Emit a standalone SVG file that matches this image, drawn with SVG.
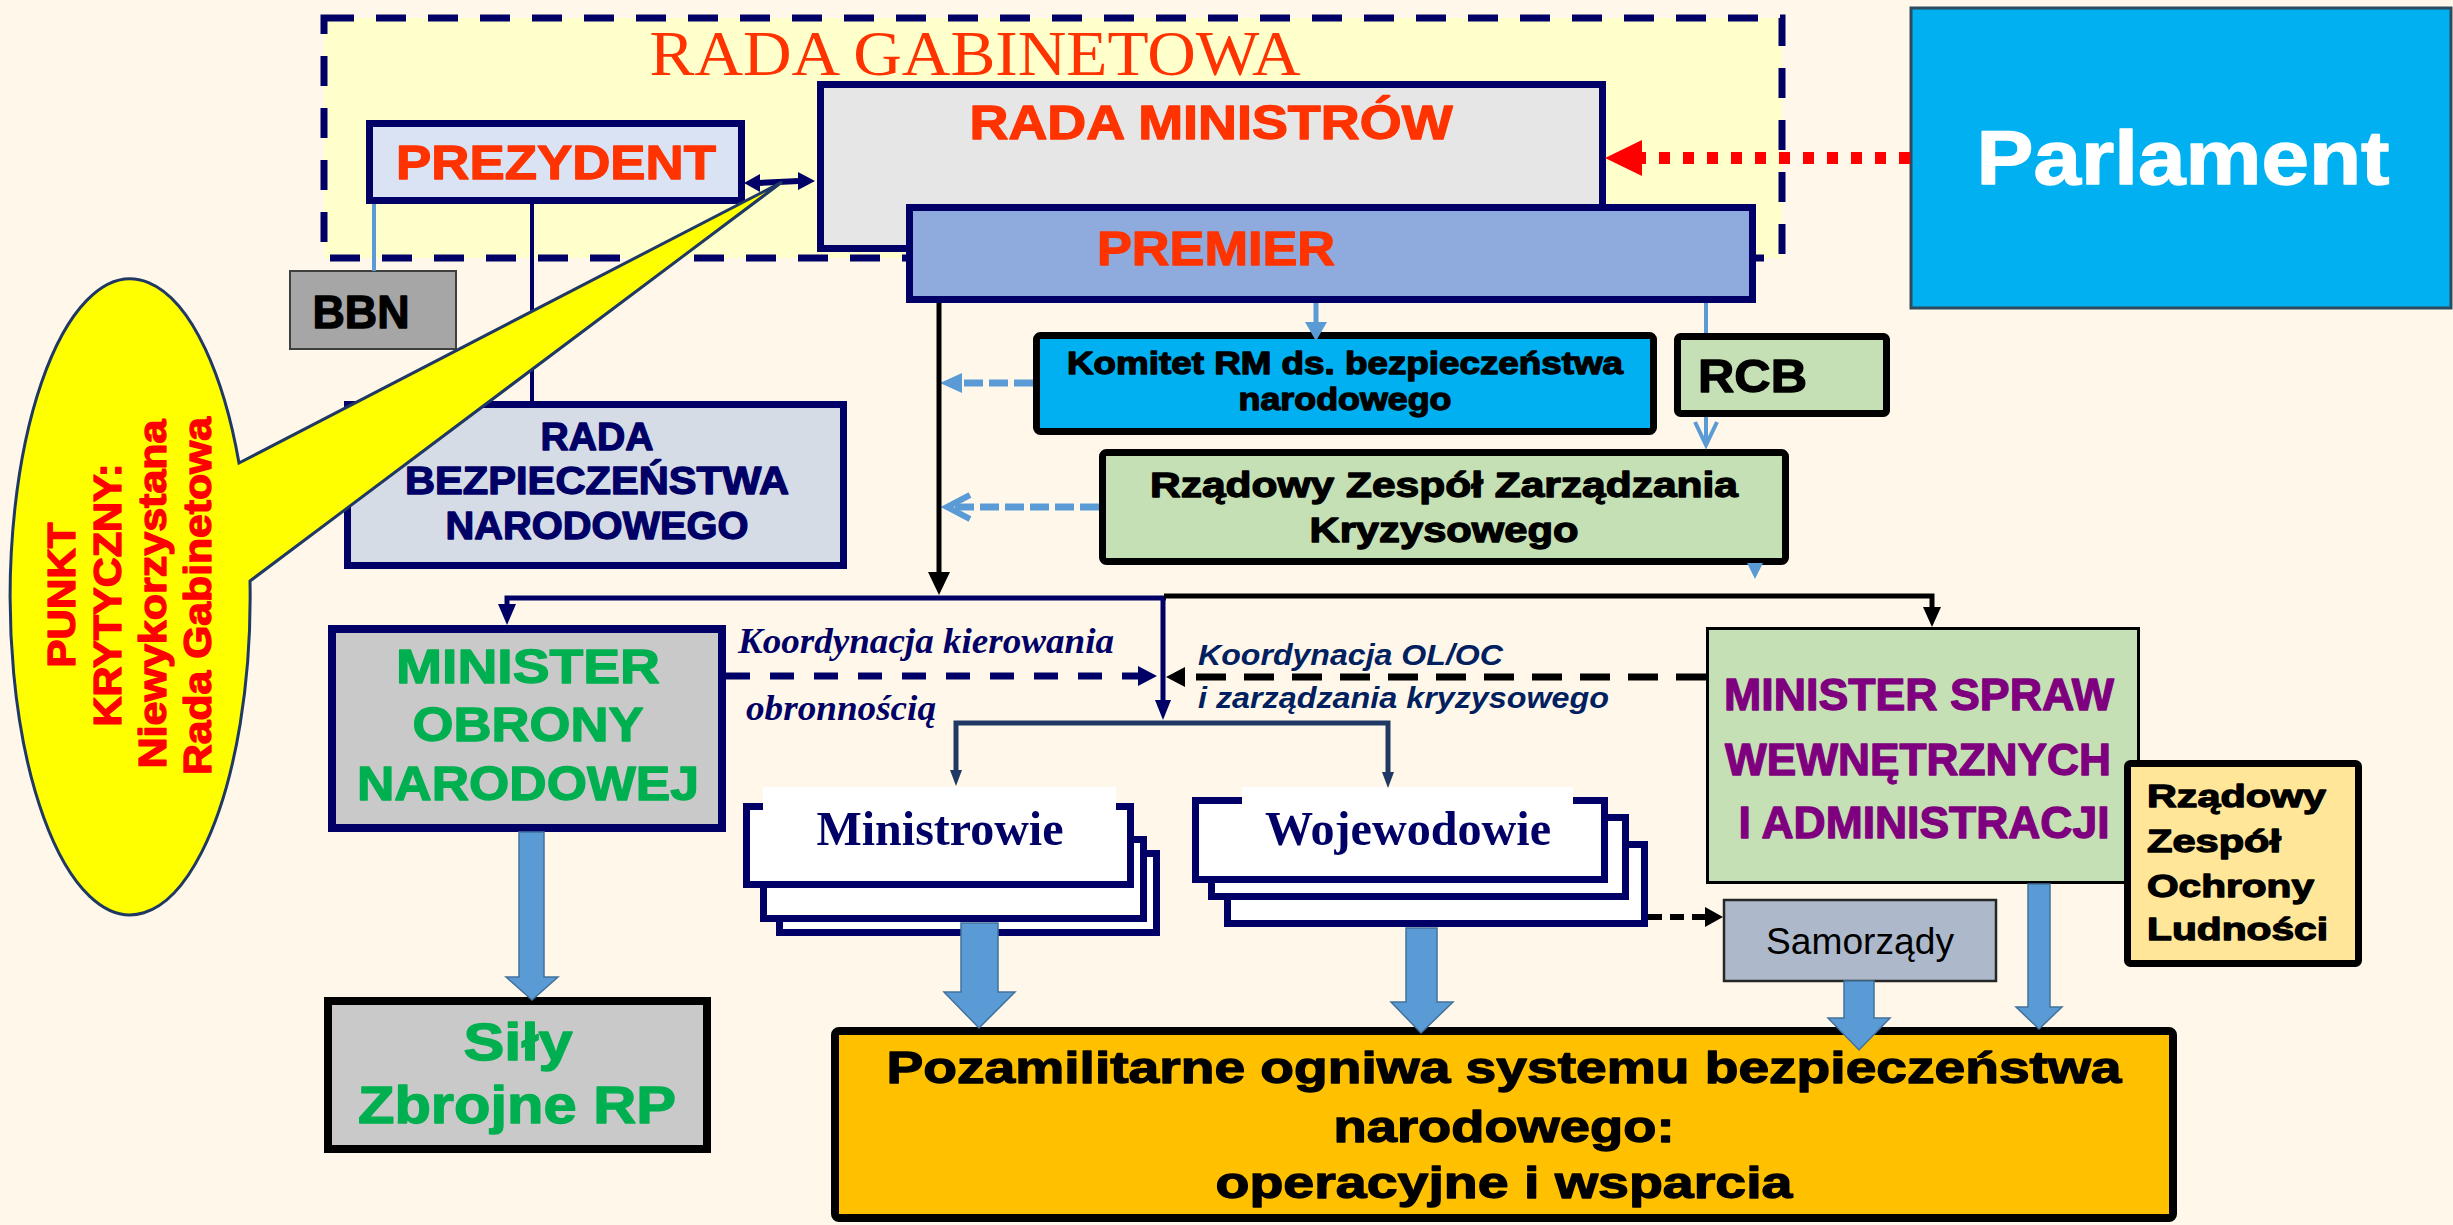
<svg xmlns="http://www.w3.org/2000/svg" width="2453" height="1225" viewBox="0 0 2453 1225">
<style>
.b{font-family:"Liberation Sans",Arial,sans-serif;font-weight:bold}
.h{stroke-width:1.3;stroke-linejoin:round}
.c{text-anchor:middle}
.nav{stroke:#000066}
.box7{stroke-width:7}
.blk{fill:#5B9BD5;stroke:#41719C;stroke-width:1.5}
.ser{font-family:"Liberation Serif","Times New Roman",serif}
</style>
<rect width="2453" height="1225" fill="#FFF8EA"/>

<g id="rada-gabinetowa">
<rect x="324" y="18" width="1458" height="240" fill="#FFFFCC" stroke="#000066" stroke-width="7" stroke-dasharray="30 22"/>
<text class="ser c" x="975" y="75" font-size="64" fill="#FF3300" textLength="651" lengthAdjust="spacingAndGlyphs">RADA GABINETOWA</text>
</g>

<g id="prezydent">
<rect x="369.5" y="123.5" width="372" height="77" fill="#DAE3F3" class="nav box7"/>
<text class="b c h" x="556" y="179" font-size="49" fill="#FF3300" stroke="#FF3300" textLength="320" lengthAdjust="spacingAndGlyphs">PREZYDENT</text>
</g>

<g id="rada-ministrow">
<rect x="820.5" y="84.5" width="782" height="164" fill="#E7E6E6" class="nav box7"/>
<text class="b c h" x="1211" y="139" font-size="48" fill="#FF3300" stroke="#FF3300" textLength="483" lengthAdjust="spacingAndGlyphs">RADA MINISTRÓW</text>
</g>

<g id="premier">
<rect x="909.5" y="207.5" width="843" height="92" fill="#8FAADC" class="nav box7"/>
<text class="b c h" x="1216" y="265" font-size="49" fill="#FF3300" stroke="#FF3300" textLength="238" lengthAdjust="spacingAndGlyphs">PREMIER</text>
</g>

<g id="parlament">
<rect x="1911" y="8" width="540" height="300" fill="#00B0F0" stroke="#2E4A5E" stroke-width="3"/>
<text class="b c h" x="2183" y="184" font-size="76" fill="#FFFFFF" stroke="#FFFFFF" textLength="413" lengthAdjust="spacingAndGlyphs">Parlament</text>
</g>

<g id="bbn">
<rect x="290" y="271" width="166" height="78" fill="#A6A6A6" stroke="#3F3F3F" stroke-width="2"/>
<text class="b c h" x="361" y="328" font-size="46" fill="#000" stroke="#000" textLength="97" lengthAdjust="spacingAndGlyphs">BBN</text>
</g>

<g id="rbn">
<rect x="347.5" y="404.5" width="496" height="161" fill="#D6DCE5" class="nav box7"/>
<g class="b c h" font-size="38" fill="#000066" stroke="#000066">
<text x="597" y="450" textLength="113" lengthAdjust="spacingAndGlyphs">RADA</text>
<text x="597" y="494" textLength="384" lengthAdjust="spacingAndGlyphs">BEZPIECZEŃSTWA</text>
<text x="597" y="539" textLength="303" lengthAdjust="spacingAndGlyphs">NARODOWEGO</text>
</g>
</g>

<g id="komitet">
<rect x="1036.5" y="335.5" width="617" height="96" rx="4" fill="#00B0F0" stroke="#000" stroke-width="7"/>
<g class="b c h" font-size="31" fill="#000" stroke="#000">
<text x="1345" y="374" textLength="556" lengthAdjust="spacingAndGlyphs">Komitet RM ds. bezpieczeństwa</text>
<text x="1345" y="410" textLength="213" lengthAdjust="spacingAndGlyphs">narodowego</text>
</g>
</g>

<g id="rcb">
<rect x="1677.5" y="336.5" width="209" height="77" rx="3" fill="#C5E0B4" stroke="#000" stroke-width="7"/>
<text class="b h" x="1698" y="392" font-size="47" fill="#000" stroke="#000" textLength="109" lengthAdjust="spacingAndGlyphs">RCB</text>
</g>

<g id="rzzk">
<rect x="1102.5" y="452.5" width="683" height="109" rx="4" fill="#C5E0B4" stroke="#000" stroke-width="7"/>
<g class="b c h" font-size="35" fill="#000" stroke="#000">
<text x="1444" y="497" textLength="588" lengthAdjust="spacingAndGlyphs">Rządowy Zespół Zarządzania</text>
<text x="1444" y="542" textLength="269" lengthAdjust="spacingAndGlyphs">Kryzysowego</text>
</g>
</g>

<g id="mon">
<rect x="332" y="629" width="390" height="199" fill="#C9C9C9" stroke="#000066" stroke-width="8"/>
<g class="b c h" font-size="48" fill="#00B050" stroke="#00B050">
<text x="528" y="683" textLength="264" lengthAdjust="spacingAndGlyphs">MINISTER</text>
<text x="528" y="741" textLength="231" lengthAdjust="spacingAndGlyphs">OBRONY</text>
<text x="528" y="800" textLength="342" lengthAdjust="spacingAndGlyphs">NARODOWEJ</text>
</g>
</g>

<g id="sily-zbrojne">
<rect x="328" y="1001" width="379" height="148" fill="#C9C9C9" stroke="#000" stroke-width="8"/>
<g class="b c h" font-size="51" fill="#00B050" stroke="#00B050">
<text x="518" y="1060" textLength="109" lengthAdjust="spacingAndGlyphs">Siły</text>
<text x="517" y="1123" textLength="318" lengthAdjust="spacingAndGlyphs">Zbrojne RP</text>
</g>
</g>

<g id="ministrowie">
<rect x="779.5" y="853.5" width="377" height="79" fill="#FFF" class="nav box7"/>
<rect x="763.5" y="839.5" width="380" height="79" fill="#FFF" class="nav box7"/>
<rect x="746.5" y="806.5" width="384" height="78" fill="#FFF" class="nav box7"/>
<rect x="763" y="787" width="353" height="40" fill="#FFF"/>
<text class="ser c" x="940" y="845" font-size="49" font-weight="bold" fill="#000066" textLength="247" lengthAdjust="spacingAndGlyphs">Ministrowie</text>
</g>

<g id="wojewodowie">
<rect x="1227.5" y="844.5" width="417" height="79" fill="#FFF" class="nav box7"/>
<rect x="1211.5" y="817.5" width="414" height="79" fill="#FFF" class="nav box7"/>
<rect x="1195.5" y="800.5" width="409" height="79" fill="#FFF" class="nav box7"/>
<rect x="1242" y="787" width="331" height="40" fill="#FFF"/>
<text class="ser c" x="1408" y="845" font-size="49" font-weight="bold" fill="#000066" textLength="286" lengthAdjust="spacingAndGlyphs">Wojewodowie</text>
</g>

<g id="samorzady">
<rect x="1724" y="900" width="272" height="81" fill="#ADB9CA" stroke="#262626" stroke-width="2.5"/>
<text class="c" x="1860" y="954" font-family="Liberation Sans, Arial, sans-serif" font-size="36" fill="#000" textLength="188" lengthAdjust="spacingAndGlyphs">Samorządy</text>
</g>

<g id="mswia">
<rect x="1707.5" y="628.5" width="431" height="254" fill="#C5E0B4" stroke="#000" stroke-width="3"/>
<g class="b c h" font-size="45" fill="#7F007F" stroke="#7F007F">
<text x="1919" y="710" textLength="390" lengthAdjust="spacingAndGlyphs">MINISTER SPRAW</text>
<text x="1918" y="775" textLength="386" lengthAdjust="spacingAndGlyphs">WEWNĘTRZNYCH</text>
<text x="1924" y="838" textLength="371" lengthAdjust="spacingAndGlyphs">I ADMINISTRACJI</text>
</g>
</g>

<g id="rzol">
<rect x="2127.5" y="763.5" width="231" height="200" rx="3" fill="#FFE699" stroke="#000" stroke-width="7"/>
<g class="b h" font-size="32" fill="#000" stroke="#000">
<text x="2147" y="807" textLength="179" lengthAdjust="spacingAndGlyphs">Rządowy</text>
<text x="2147" y="852" textLength="134" lengthAdjust="spacingAndGlyphs">Zespół</text>
<text x="2147" y="897" textLength="167" lengthAdjust="spacingAndGlyphs">Ochrony</text>
<text x="2147" y="940" textLength="181" lengthAdjust="spacingAndGlyphs">Ludności</text>
</g>
</g>

<g id="pozamilitarne">
<rect x="835" y="1031" width="1338" height="187" rx="4" fill="#FFC000" stroke="#000" stroke-width="8"/>
<g class="b c h" font-size="45" fill="#000" stroke="#000">
<text x="1504" y="1083" textLength="1235" lengthAdjust="spacingAndGlyphs">Pozamilitarne ogniwa systemu bezpieczeństwa</text>
<text x="1504" y="1142" textLength="341" lengthAdjust="spacingAndGlyphs">narodowego:</text>
<text x="1504" y="1198" textLength="577" lengthAdjust="spacingAndGlyphs">operacyjne i wsparcia</text>
</g>
</g>

<g id="connectors">
<line x1="1910" y1="158" x2="1640" y2="158" stroke="#FF0000" stroke-width="12" stroke-dasharray="11 13"/>
<polygon points="1605,158 1642,140 1642,176" fill="#FF0000"/>
<line x1="758" y1="183" x2="799" y2="181" stroke="#000066" stroke-width="6"/>
<polygon points="744,183 760,174 760,192" fill="#000066"/>
<polygon points="815,181 798,172 798,190" fill="#000066"/>
<line x1="374" y1="204" x2="374" y2="271" stroke="#5B9BD5" stroke-width="4"/>
<line x1="532" y1="204" x2="532" y2="401" stroke="#000066" stroke-width="4"/>
<line x1="1316" y1="303" x2="1316" y2="324" stroke="#5B9BD5" stroke-width="5"/>
<polygon points="1316,341 1305,322 1327,322" fill="#5B9BD5"/>
<line x1="1706" y1="303" x2="1706" y2="333" stroke="#5B9BD5" stroke-width="4"/>
<line x1="1706" y1="417" x2="1706" y2="444" stroke="#5B9BD5" stroke-width="4"/>
<polyline points="1695,422 1706,445 1717,422" fill="none" stroke="#5B9BD5" stroke-width="4"/>
<line x1="1033" y1="383" x2="960" y2="383" stroke="#5B9BD5" stroke-width="7" stroke-dasharray="19 6"/>
<polygon points="940,383 962,373 962,393" fill="#5B9BD5"/>
<line x1="1099" y1="507" x2="950" y2="507" stroke="#5B9BD5" stroke-width="7" stroke-dasharray="19 6"/>
<polyline points="970,495 947,507 970,519" fill="none" stroke="#5B9BD5" stroke-width="6"/>
<polygon points="1747,563 1763,563 1755,579" fill="#5B9BD5"/>
<line x1="939" y1="303" x2="939" y2="575" stroke="#000" stroke-width="5"/>
<polygon points="939,595 928,572 950,572" fill="#000"/>
<polyline points="1166,598 507,598 507,606" fill="none" stroke="#000066" stroke-width="5"/>
<polygon points="507,625 498,604 516,604" fill="#000066"/>
<line x1="1163" y1="598" x2="1163" y2="702" stroke="#000066" stroke-width="5"/>
<polygon points="1163,720 1155,700 1171,700" fill="#000066"/>
<polyline points="1164,596 1932,596 1932,608" fill="none" stroke="#000" stroke-width="5"/>
<polygon points="1932,627 1923,607 1941,607" fill="#000"/>
<polyline points="956,772 956,723 1388,723 1388,774" fill="none" stroke="#1F3864" stroke-width="5"/>
<polygon points="956,786 950,770 962,770" fill="#1F3864"/>
<polygon points="1388,788 1382,772 1394,772" fill="#1F3864"/>
<line x1="726" y1="676" x2="1140" y2="676" stroke="#000066" stroke-width="7" stroke-dasharray="24 20"/>
<polygon points="1157,676 1138,666 1138,686" fill="#000066"/>
<line x1="1706" y1="677" x2="1184" y2="677" stroke="#000" stroke-width="7" stroke-dasharray="30 18"/>
<polygon points="1166,677 1185,667 1185,687" fill="#000"/>
<line x1="1648" y1="917" x2="1706" y2="917" stroke="#000" stroke-width="6" stroke-dasharray="14 8"/>
<polygon points="1723,917 1705,907 1705,927" fill="#000"/>
<polygon class="blk" points="519,832 544,832 544,977 558,977 532,1000 506,977 519,977"/>
<polygon class="blk" points="961,923 998,923 998,992 1015,992 979,1028 944,992 961,992"/>
<polygon class="blk" points="1406,928 1437,928 1437,1002 1453,1002 1421,1033 1391,1002 1406,1002"/>
<polygon class="blk" points="1844,981 1874,981 1874,1018 1890,1018 1859,1050 1828,1018 1844,1018"/>
<polygon class="blk" points="2028,884 2050,884 2050,1007 2062,1007 2039,1029 2016,1007 2028,1007"/>
<g class="ser" font-style="italic" font-weight="bold" font-size="36" fill="#000066">
<text x="738" y="653" textLength="376" lengthAdjust="spacingAndGlyphs">Koordynacja kierowania</text>
<text x="746" y="720" textLength="190" lengthAdjust="spacingAndGlyphs">obronnością</text>
</g>
<g class="b" font-style="italic" font-size="30" fill="#002060">
<text x="1198" y="665" textLength="305" lengthAdjust="spacingAndGlyphs">Koordynacja OL/OC</text>
<text x="1198" y="708" textLength="411" lengthAdjust="spacingAndGlyphs">i zarządzania kryzysowego</text>
</g>
</g>

<g id="punkt-krytyczny">
<path d="M239,463 L782,182 L250,581 A120,318 0 1 1 239,463 Z" fill="#FFFF00" stroke="#203864" stroke-width="3"/>
<g class="b c h" font-size="38" fill="#FF0000" stroke="#FF0000">
<text transform="translate(75,595) rotate(-90)" textLength="145" lengthAdjust="spacingAndGlyphs">PUNKT</text>
<text transform="translate(121,595) rotate(-90)" textLength="263" lengthAdjust="spacingAndGlyphs">KRYTYCZNY:</text>
<text transform="translate(166,594) rotate(-90)" textLength="349" lengthAdjust="spacingAndGlyphs">Niewykorzystana</text>
<text transform="translate(211,596) rotate(-90)" textLength="358" lengthAdjust="spacingAndGlyphs">Rada Gabinetowa</text>
</g>
</g>
</svg>
